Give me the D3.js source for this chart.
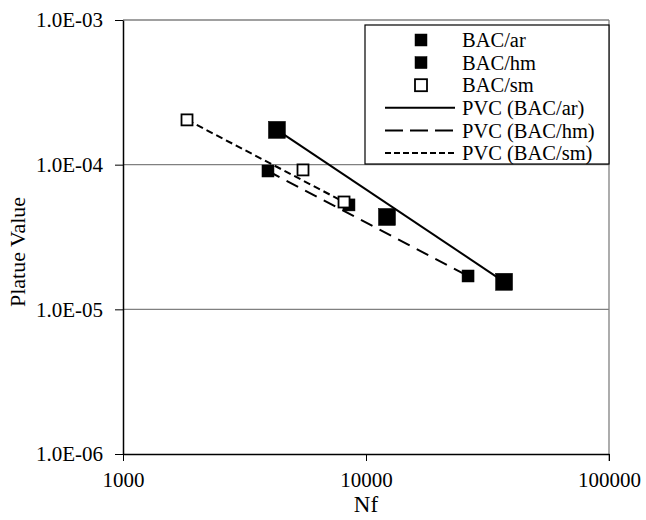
<!DOCTYPE html>
<html>
<head>
<meta charset="utf-8">
<script src="https://cdn.jsdelivr.net/npm/d3@7"></script>
<style>
  body { margin: 0; background: #fff; }
  text { font-family: "Liberation Serif", "Times New Roman", serif; }
</style>
</head>
<body>
<div id="chart"></div>
<script>
// data
var nfAr = [4300, 12200, 37000];
var pvAr = [1.74e-4, 4.35e-5, 1.55e-5];
var nfHm = [3950, 8510, 26300];
var pvHm = [9.04e-5, 5.27e-5, 1.70e-5];
var nfSm = [1834, 5505, 8120];
var pvSm = [2.04e-4, 9.2e-5, 5.52e-5];
var xTicks = [1000, 10000, 100000];
var yTicks = [1e-3, 1e-4, 1e-5, 1e-6];
var legendLabels = ["BAC/ar", "BAC/hm", "BAC/sm", "PVC (BAC/ar)", "PVC (BAC/hm)", "PVC (BAC/sm)"];

var margin = { top: 20, left: 123, right: 37, bottom: 66 },
	width = 646 - margin.left - margin.right,
	height = 520 - margin.top - margin.bottom;

var svg = d3.select("#chart")
	.append("svg")
	.attr("width", 646)
	.attr("height", 520)
	.append("g")
	.attr("transform", "translate(" + margin.left + "," + margin.top + ")");

var x = d3.scaleLog().domain([1000, 100000]).range([0, width]);
var y = d3.scaleLog().domain([1e-6, 1e-3]).range([height, 0]);

function pts(xs, ys) {
	return xs.map(function(v, i) { return { x: v, y: ys[i] }; });
}

var series = [
	{ pts: pts(nfAr, pvAr), size: 17, fill: "#000", dash: null },
	{ pts: pts(nfHm, pvHm), size: 12, fill: "#000", dash: "13,8" },
	{ pts: pts(nfSm, pvSm), size: 11, fill: "#fff", dash: "7,4" }
];

// gridlines
svg.selectAll(".grid")
	.data(yTicks.slice(0, 3))
	.enter()
	.append("line")
	.attr("x1", 0).attr("x2", width)
	.attr("y1", function(d) { return y(d); })
	.attr("y2", function(d) { return y(d); })
	.attr("stroke", "#808080")
	.attr("stroke-width", 1.3);

// right border
svg.append("line")
	.attr("x1", width).attr("x2", width)
	.attr("y1", 0).attr("y2", height + 7)
	.attr("stroke", "#808080")
	.attr("stroke-width", 1.3);

// axes
var xAxis = d3.axisBottom(x).tickValues(xTicks).tickFormat(d3.format("d")).tickSizeInner(7).tickSizeOuter(0);
svg.append("g")
	.attr("transform", "translate(0," + height + ")")
	.call(xAxis)
	.call(function(g) {
		g.select(".domain").attr("stroke-width", 1.5);
		g.selectAll("text").attr("font-size", 21).attr("fill", "#000").attr("dy", "1.1em");
	});

var yAxis = d3.axisLeft(y).tickValues(yTicks).tickSizeInner(8).tickSizeOuter(0)
	.tickFormat(function(d) {
		var e = Math.round(Math.log10(d));
		return "1.0E-" + (Math.abs(e) < 10 ? "0" : "") + Math.abs(e);
	});
svg.append("g")
	.call(yAxis)
	.call(function(g) {
		g.select(".domain").attr("stroke-width", 1.5);
		g.selectAll("text").attr("font-size", 21).attr("fill", "#000").attr("x", -20);
	});

// fit lines
var line = d3.line()
	.x(function(d) { return x(d.x); })
	.y(function(d) { return y(d.y); });

series.forEach(function(s) {
	svg.append("path")
		.datum([s.pts[0], s.pts[s.pts.length - 1]])
		.attr("d", line)
		.attr("fill", "none")
		.attr("stroke", "#000")
		.attr("stroke-width", 2)
		.attr("stroke-dasharray", s.dash);
});

// markers
series.forEach(function(s) {
	svg.selectAll(null)
		.data(s.pts)
		.enter()
		.append("rect")
		.attr("x", function(d) { return x(d.x) - s.size / 2; })
		.attr("y", function(d) { return y(d.y) - s.size / 2; })
		.attr("width", s.size)
		.attr("height", s.size)
		.attr("fill", s.fill)
		.attr("stroke", "#000")
		.attr("stroke-width", s.fill == "#fff" ? 1.8 : 0.5);
});

// axis titles
svg.append("text")
	.attr("x", width / 2)
	.attr("y", height + 58)
	.attr("text-anchor", "middle")
	.attr("font-size", 23)
	.attr("fill", "#000")
	.text("Nf");

svg.append("text")
	.attr("transform", "translate(" + (-98) + "," + 232 + ") rotate(-90)")
	.attr("text-anchor", "middle")
	.attr("font-size", 22)
	.attr("fill", "#000")
	.text("Platue Value");

// legend
var lg = svg.append("g").attr("transform", "translate(" + (365 - margin.left) + "," + (25 - margin.top) + ")");
lg.append("rect")
	.attr("width", width - (365 - margin.left))
	.attr("height", 139)
	.attr("fill", "#fff")
	.attr("stroke", "#000")
	.attr("stroke-width", 1.2);

var rowY = d3.scalePoint().domain(legendLabels).range([15, 128]);

legendLabels.forEach(function(lab, i) {
	var yy = rowY(lab);
	if (i < 3) {
		lg.append("rect")
			.attr("x", 56 - 6).attr("y", yy - 6)
			.attr("width", 12).attr("height", 12)
			.attr("fill", series[i].fill)
			.attr("stroke", "#000")
			.attr("stroke-width", i == 2 ? 1.8 : 0.5);
	} else {
		lg.append("line")
			.attr("x1", 20).attr("x2", 90)
			.attr("y1", yy).attr("y2", yy)
			.attr("stroke", "#000")
			.attr("stroke-width", 2)
			.attr("stroke-dasharray", i == 3 ? null : (i == 4 ? "18,7" : "6,3"));
	}
	lg.append("text")
		.attr("x", 97)
		.attr("y", yy)
		.attr("dy", "0.35em")
		.attr("font-size", 20.5)
		.attr("fill", "#000")
		.text(lab);
});
</script>
</body>
</html>
